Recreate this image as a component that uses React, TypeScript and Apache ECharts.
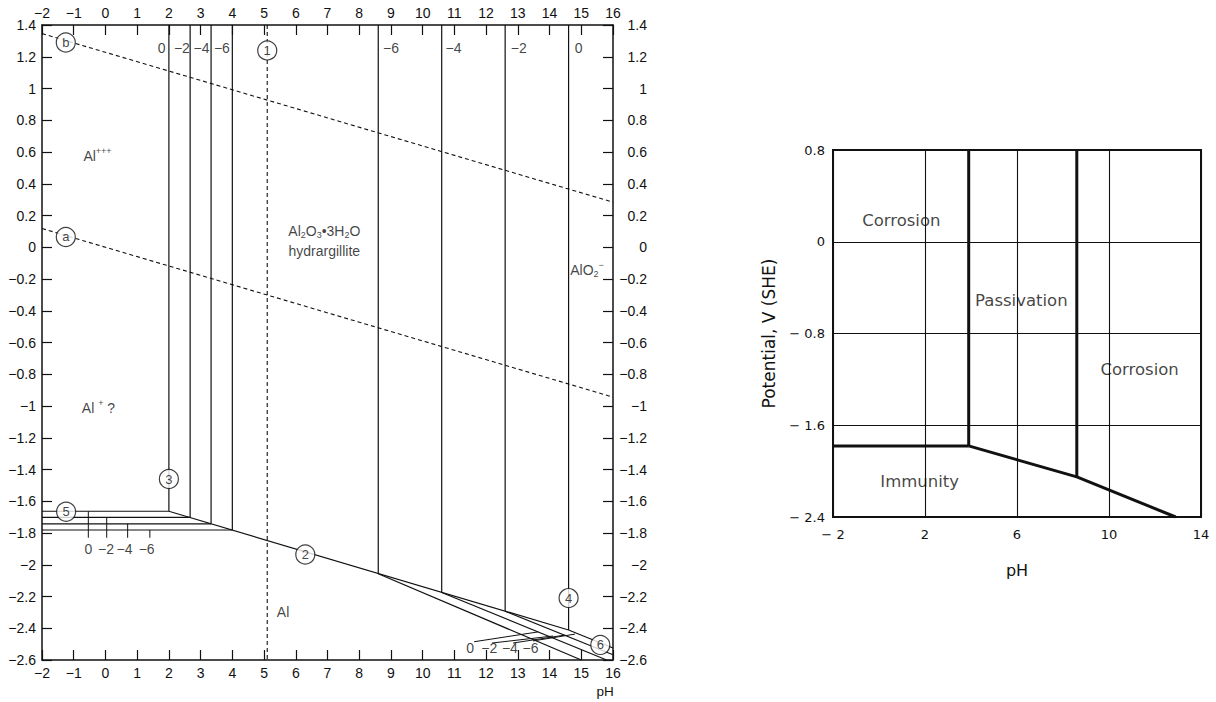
import { useEffect, useRef } from 'react';
import * as echarts from 'echarts';

const FONT = '"Liberation Sans", Arial, sans-serif';
const FONT_R = '"DejaVu Sans", sans-serif';
const INK = '#111';

// ---------- Left diagram (Pourbaix, Al - H2O) ----------
const PH_MIN = -2;
const PH_MAX = 16;
const E_MIN = -2.6;
const E_MAX = 1.4;

// line 3 (Al+++ / hydrargillite) for log C = 0, -2, -4, -6
const acidPH = [2.0, 2.67, 3.33, 4.0];
// line 5 (Al+++ / Al) potentials for log C = 0, -2, -4, -6
const acidFootE = [-1.663, -1.702, -1.742, -1.781];
// line 4 (hydrargillite / AlO2-) for log C = -6, -4, -2, 0
const alkPH = [8.6, 10.6, 12.6, 14.6];
const alkFootE = [-2.057, -2.175, -2.293, -2.411];
// line 6 (AlO2- / Al) end points for log C = -6, -4, -2, 0
const fanEndPH = [15.0, 15.8, 16.0, 16.0];
const fanEndE = [-2.6, -2.6, -2.567, -2.524];
// line 2 (hydrargillite / Al)
const line2PH = [2.0, 14.6];
const line2E = [-1.663, -2.411];
// dashed lines a, b and 1
const waterPH = [-2, 16];
const lineAE = [0.118, -0.944];
const lineBE = [1.346, 0.284];
const line1PH = 5.1;

// small ticks under line 5 and their labels
const concLabels = ['0', '−2', '−4', '−6'];
const line5TickPH = [-0.54, 0.04, 0.7, 1.4];
const line5TickBottomE = -1.83;
const line5LabelPH = [-0.54, 0.02, 0.6, 1.3];
const line5LabelE = -1.903;

// concentration labels at top
const topAcidLabelPH = [1.77, 2.41, 3.03, 3.67];
const topAlkLabels = ['−6', '−4', '−2', '0'];
const topAlkLabelPH = [9.0, 10.97, 13.03, 14.92];
const topLabelE = 1.255;

// line 6 labels and leader lines
const fanLabelPH = [11.5, 12.1, 12.75, 13.4];
const fanLabelE = -2.524;
const leaderFromPH = [11.62, 12.19, 12.85, 13.48];
const leaderFromE = [-2.485, -2.493, -2.493, -2.48];
const leaderToPH = [13.64, 14.11, 14.49, 14.8];
const leaderToE = [-2.423, -2.449, -2.443, -2.437];

// circled line numbers
const circleNames = ['b', '1', 'a', '3', '5', '2', '4', '6'];
const circlePH = [-1.25, 5.1, -1.25, 2.0, -1.24, 6.3, 14.6, 15.6];
const circleE = [1.29, 1.24, 0.065, -1.46, -1.666, -1.935, -2.21, -2.505];

// field names
const fieldTexts = ['Al{sup|+++}', 'Al {sup|+} ?', 'Al{sub|2}O{sub|3}•3H{sub|2}O', 'hydrargillite', 'AlO{sub|2}{sup|−}', 'Al'];
const fieldPH = [-0.25, -0.22, 6.9, 6.9, 15.18, 5.6];
const fieldE = [0.575, -1.011, 0.104, -0.022, -0.143, -2.296];

// ---------- Right diagram (simplified) ----------
const passLeftPH = 3.9;
const passRightPH = 8.6;
const immunityE = -1.78;
const slopePH = [3.9, 8.6, 12.9];
const slopeE = [-1.78, -2.05, -2.4];
const R_PH_MIN = -2;
const R_PH_MAX = 14;
const R_E_MIN = -2.4;
const R_E_MAX = 0.8;
const regionTexts = ['Corrosion', 'Passivation', 'Corrosion', 'Immunity'];
const regionPH = [0.97, 6.19, 11.33, 1.77];
const regionE = [0.183, -0.509, -1.111, -2.094];

const fmtMinus = (v: number) => {
  const r = Math.round(v * 10) / 10;
  return r < 0 ? '−' + Math.abs(r) : String(r);
};

function seg(data: number[][], opt: { xi?: number; yi?: number; w?: number; dash?: boolean } = {}) {
  return {
    type: 'line',
    xAxisIndex: opt.xi ?? 0,
    yAxisIndex: opt.yi ?? 0,
    data,
    symbol: 'none',
    silent: true,
    z: 3,
    lineStyle: { color: INK, width: opt.w ?? 1.2, type: opt.dash ? [4, 3] : 'solid' },
  };
}

function textSeries(names: string[], xs: number[], ys: number[], label: any, xi = 0, yi = 0) {
  return {
    type: 'scatter',
    xAxisIndex: xi,
    yAxisIndex: yi,
    symbolSize: 1,
    silent: true,
    z: 6,
    itemStyle: { color: 'transparent' },
    data: names.map((n, i) => ({ name: n, value: [xs[i], ys[i]] })),
    label: { show: true, position: 'inside', formatter: (p: any) => p.name, color: INK, textBorderWidth: 0, ...label },
  };
}

function buildOption() {
  const series: any[] = [];
  // line 3 verticals and line 5 horizontals
  acidPH.forEach((ph, i) => {
    series.push(seg([[ph, E_MAX], [ph, acidFootE[i]]]));
    series.push(seg([[PH_MIN, acidFootE[i]], [ph, acidFootE[i]]]));
  });
  // line 2
  series.push(seg([[line2PH[0], line2E[0]], [line2PH[1], line2E[1]]]));
  // line 4 verticals and line 6 fan
  alkPH.forEach((ph, i) => {
    series.push(seg([[ph, E_MAX], [ph, alkFootE[i]]]));
    series.push(seg([[ph, alkFootE[i]], [fanEndPH[i], fanEndE[i]]]));
  });
  // dashed lines
  series.push(seg([[waterPH[0], lineAE[0]], [waterPH[1], lineAE[1]]], { dash: true, w: 1.1 }));
  series.push(seg([[waterPH[0], lineBE[0]], [waterPH[1], lineBE[1]]], { dash: true, w: 1.1 }));
  series.push(seg([[line1PH, E_MAX], [line1PH, E_MIN]], { dash: true, w: 1.1 }));
  // small ticks below line 5
  line5TickPH.forEach((ph, i) => {
    series.push(seg([[ph, acidFootE[i]], [ph, line5TickBottomE]], { w: 1 }));
  });
  // leader lines for line 6 labels
  leaderFromPH.forEach((ph, i) => {
    series.push(seg([[ph, leaderFromE[i]], [leaderToPH[i], leaderToE[i]]], { w: 1 }));
  });

  const smallLbl = { fontSize: 14, fontFamily: FONT };
  series.push(textSeries(concLabels, topAcidLabelPH, topAcidLabelPH.map(() => topLabelE), smallLbl));
  series.push(textSeries(topAlkLabels, topAlkLabelPH, topAlkLabelPH.map(() => topLabelE), smallLbl));
  series.push(textSeries(concLabels, line5LabelPH, line5LabelPH.map(() => line5LabelE), smallLbl));
  series.push(textSeries(concLabels, fanLabelPH, fanLabelPH.map(() => fanLabelE), smallLbl));

  series.push(
    textSeries(fieldTexts, fieldPH, fieldE, {
      fontSize: 14,
      lineHeight: 18,
      fontFamily: FONT,
      rich: {
        sub: { fontSize: 9, lineHeight: 10, verticalAlign: 'bottom', fontFamily: FONT, color: INK },
        sup: { fontSize: 9, lineHeight: 10, verticalAlign: 'top', fontFamily: FONT, color: INK },
      },
    })
  );

  // circled numbers
  series.push({
    type: 'scatter',
    xAxisIndex: 0,
    yAxisIndex: 0,
    symbol: 'circle',
    symbolSize: 19,
    silent: true,
    z: 8,
    itemStyle: { color: '#fff', borderColor: INK, borderWidth: 1.2 },
    data: circleNames.map((n, i) => ({ name: n, value: [circlePH[i], circleE[i]] })),
    label: { show: true, position: 'inside', formatter: (p: any) => p.name, color: INK, textBorderWidth: 0, fontSize: 13, fontFamily: FONT },
  });

  // ----- right diagram -----
  const R = { xi: 2, yi: 2, w: 3 };
  series.push(seg([[passLeftPH, R_E_MAX], [passLeftPH, immunityE]], R));
  series.push(seg([[R_PH_MIN, immunityE], [passLeftPH, immunityE]], R));
  series.push(seg(slopePH.map((p, i) => [p, slopeE[i]]), R));
  series.push(seg([[passRightPH, R_E_MAX], [passRightPH, slopeE[1]]], R));
  series.push(textSeries(regionTexts, regionPH, regionE, { fontSize: 16.5, fontFamily: FONT_R }, 2, 2));

  const leftAxisLine = { show: true, onZero: false, lineStyle: { color: INK, width: 1.5 } };
  const leftTick = { show: true, inside: true, length: 10, lineStyle: { color: INK, width: 1.2 } };
  const leftLabel = { color: INK, fontSize: 14, fontFamily: FONT, formatter: fmtMinus };

  return {
    animation: false,
    backgroundColor: '#fff',
    grid: [
      { left: 42, top: 25, width: 571, height: 635 },
      { left: 833, top: 150, width: 368, height: 367, show: true, borderColor: INK, borderWidth: 2, backgroundColor: 'transparent' },
    ],
    xAxis: [
      {
        type: 'value', gridIndex: 0, position: 'bottom', min: PH_MIN, max: PH_MAX, interval: 1,
        axisLine: leftAxisLine, axisTick: leftTick, splitLine: { show: false },
        axisLabel: { ...leftLabel, margin: 6 },
      },
      {
        type: 'value', gridIndex: 0, position: 'top', min: PH_MIN, max: PH_MAX, interval: 1,
        axisLine: leftAxisLine, axisTick: leftTick, splitLine: { show: false },
        axisLabel: { ...leftLabel, margin: 5 },
      },
      {
        type: 'value', gridIndex: 1, position: 'bottom', min: R_PH_MIN, max: R_PH_MAX, interval: 4,
        axisLine: { show: true, onZero: false, lineStyle: { color: INK, width: 2 } },
        axisTick: { show: false },
        splitLine: { show: true, lineStyle: { color: INK, width: 1.1 } },
        axisLabel: { color: INK, fontSize: 13, fontFamily: FONT_R, margin: 11, formatter: (v: number) => (v < 0 ? '− ' + Math.abs(v) : String(v)) },
        name: 'pH', nameLocation: 'middle', nameGap: 45,
        nameTextStyle: { color: INK, fontSize: 16, fontFamily: FONT_R },
      },
    ],
    yAxis: [
      {
        type: 'value', gridIndex: 0, position: 'left', min: E_MIN, max: E_MAX, interval: 0.2,
        axisLine: leftAxisLine, axisTick: leftTick, splitLine: { show: false },
        axisLabel: { ...leftLabel, margin: 6 },
      },
      {
        type: 'value', gridIndex: 0, position: 'right', min: E_MIN, max: E_MAX, interval: 0.2,
        axisLine: leftAxisLine, axisTick: leftTick, splitLine: { show: false },
        axisLabel: { ...leftLabel, margin: 34, align: 'right' },
      },
      {
        type: 'value', gridIndex: 1, position: 'left', min: R_E_MIN, max: R_E_MAX, interval: 0.8,
        axisLine: { show: true, onZero: false, lineStyle: { color: INK, width: 2 } },
        axisTick: { show: false },
        splitLine: { show: true, lineStyle: { color: INK, width: 1.1 } },
        axisLabel: {
          color: INK, fontSize: 13, fontFamily: FONT_R, margin: 8,
          formatter: (v: number) => {
            const r = Math.round(v * 10) / 10;
            return r < 0 ? '− ' + Math.abs(r) : String(r);
          },
        },
        name: 'Potential, V (SHE)', nameLocation: 'middle', nameGap: 56,
        nameTextStyle: { color: INK, fontSize: 17, fontFamily: FONT_R },
      },
    ],
    graphic: [
      {
        type: 'text', x: 605, y: 691,
        style: { text: 'pH', fill: INK, fontSize: 13.5, fontFamily: FONT, align: 'center', verticalAlign: 'middle' },
      },
    ],
    series,
  };
}

export default function App() {
  const ref = useRef<HTMLDivElement>(null);
  useEffect(() => {
    if (!ref.current) return;
    const chart = echarts.init(ref.current, null, { renderer: 'svg' });
    chart.setOption(buildOption() as any);
    return () => chart.dispose();
  }, []);
  return (
    <div
      ref={ref}
      style={{ position: 'fixed', left: 0, top: 0, width: 1216, height: 702, background: '#fff' }}
    />
  );
}
